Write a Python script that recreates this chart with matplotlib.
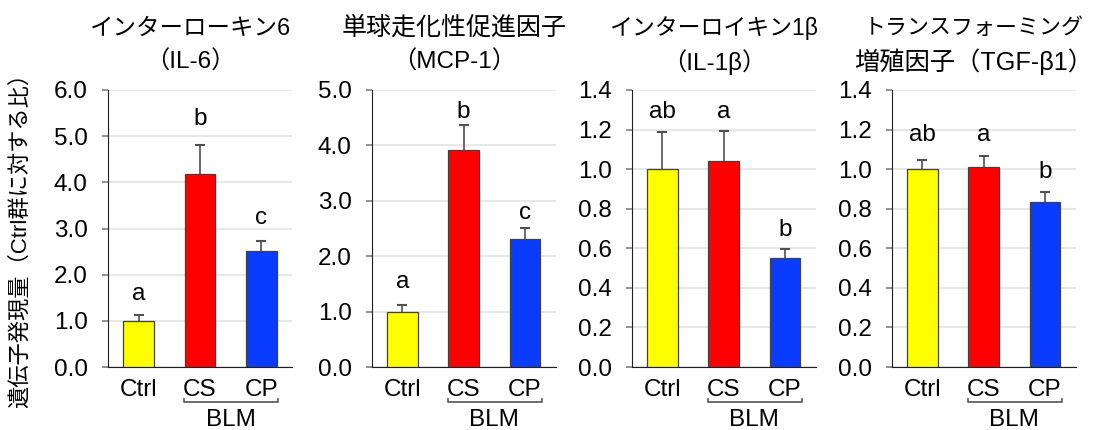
import numpy as np
import matplotlib.pyplot as plt
import matplotlib.transforms as mtransforms

plt.rcParams['font.family'] = ['Liberation Sans', 'Noto Sans CJK JP', 'DejaVu Sans']

groups = ['Ctrl', 'CS', 'CP']
bar_colors = ['#ffff00', '#ff0000', '#0a3cff']

titles = [
    ['インターローキン6', '（IL-6）'],
    ['単球走化性促進因子', '（MCP-1）'],
    ['インターロイキン1β', '（IL-1β）'],
    ['トランスフォーミング', '増殖因子（TGF-β1）'],
]
title_sizes = [[16.9, 17.5], [18, 17.5], [16.5, 17.5], [15.8, 18.2]]

# mean values per panel
means_il6 = [1.00, 4.18, 2.52]
means_mcp1 = [1.00, 3.91, 2.31]
means_il1b = [1.00, 1.04, 0.55]
means_tgfb1 = [1.00, 1.013, 0.833]

# top of the error bars
err_top_il6 = [1.12, 4.80, 2.73]
err_top_mcp1 = [1.12, 4.36, 2.50]
err_top_il1b = [1.186, 1.195, 0.596]
err_top_tgfb1 = [1.048, 1.068, 0.882]

# significance letters and where they sit
letters_il6 = ['a', 'b', 'c']
letters_mcp1 = ['a', 'b', 'c']
letters_il1b = ['ab', 'a', 'b']
letters_tgfb1 = ['ab', 'a', 'b']
letter_y_il6 = [1.45, 5.24, 3.10]
letter_y_mcp1 = [1.43, 4.49, 2.67]
letter_y_il1b = [1.26, 1.26, 0.66]
letter_y_tgfb1 = [1.14, 1.14, 0.955]

ymax = [6.0, 5.0, 1.4, 1.4]
ystep = [1.0, 1.0, 0.2, 0.2]

means = [means_il6, means_mcp1, means_il1b, means_tgfb1]
err_tops = [err_top_il6, err_top_mcp1, err_top_il1b, err_top_tgfb1]
letters = [letters_il6, letters_mcp1, letters_il1b, letters_tgfb1]
letter_ys = [letter_y_il6, letter_y_mcp1, letter_y_il1b, letter_y_tgfb1]

W, H = 1099, 430
fig = plt.figure(figsize=(W / 100, H / 100), dpi=100)

lefts = [108, 371.7, 631.7, 891.7]
ax_w = 184
ax_top, ax_bottom = 90, 367

fs = 17.5
x = np.arange(len(groups))

for i in range(4):
    ax = fig.add_axes([lefts[i] / W, (H - ax_bottom) / H, ax_w / W, (ax_bottom - ax_top) / H])
    m = np.array(means[i])
    e = np.array(err_tops[i]) - m
    ax.bar(x, m, width=0.5, color=bar_colors, edgecolor='#404040', linewidth=0.9, zorder=3)
    # symmetric bars; the lower half is hidden behind the bar
    ax.errorbar(x, m, yerr=e, fmt='none', ecolor='#505050',
                elinewidth=1.2, capsize=3.5, capthick=1.5, zorder=2)
    for j in range(3):
        ax.text(x[j], letter_ys[i][j], letters[i][j], ha='center', va='baseline', fontsize=fs)

    ax.set_xlim(-0.5, 2.5)
    ax.set_ylim(0, ymax[i])
    ticks = np.arange(0, ymax[i] + ystep[i] / 2, ystep[i])
    ax.set_yticks(ticks)
    ax.set_yticklabels(['%.1f' % t for t in ticks], fontsize=fs)
    ax.set_xticks(x)
    ax.set_xticklabels(groups, fontsize=fs)
    ax.tick_params(axis='x', length=0, pad=8.5)
    ax.tick_params(axis='y', length=4.5, width=1.2, color='#808080', pad=10)
    ax.yaxis.grid(True, color='#e3e3e3', linewidth=1.2, zorder=0)
    ax.set_axisbelow(True)
    for s in ['top', 'right']:
        ax.spines[s].set_visible(False)
    ax.spines['left'].set_color('#202020')
    ax.spines['bottom'].set_color('#202020')

    # BLM bracket under CS and CP
    trans = mtransforms.blended_transform_factory(ax.transData, ax.transAxes)
    ax.plot([0.74, 0.74, 2.27, 2.27], [-0.114, -0.128, -0.128, -0.114], color='#555555',
            lw=1.2, transform=trans, clip_on=False)
    ax.text(1.5, -0.19, 'BLM', ha='center', va='center', fontsize=fs, transform=trans)

    ax.text(0.446, 1.224, titles[i][0], ha='center', va='center', fontsize=title_sizes[i][0],
            transform=ax.transAxes)
    ax.text(0.446, 1.101, titles[i][1], ha='center', va='center', fontsize=title_sizes[i][1],
            transform=ax.transAxes)

fig.text(20 / W, (H - 235) / H, '遺伝子発現量（Ctrl群に対する比）', rotation=90,
         ha='center', va='center', fontsize=16)

fig.savefig('out.png', dpi=100)
